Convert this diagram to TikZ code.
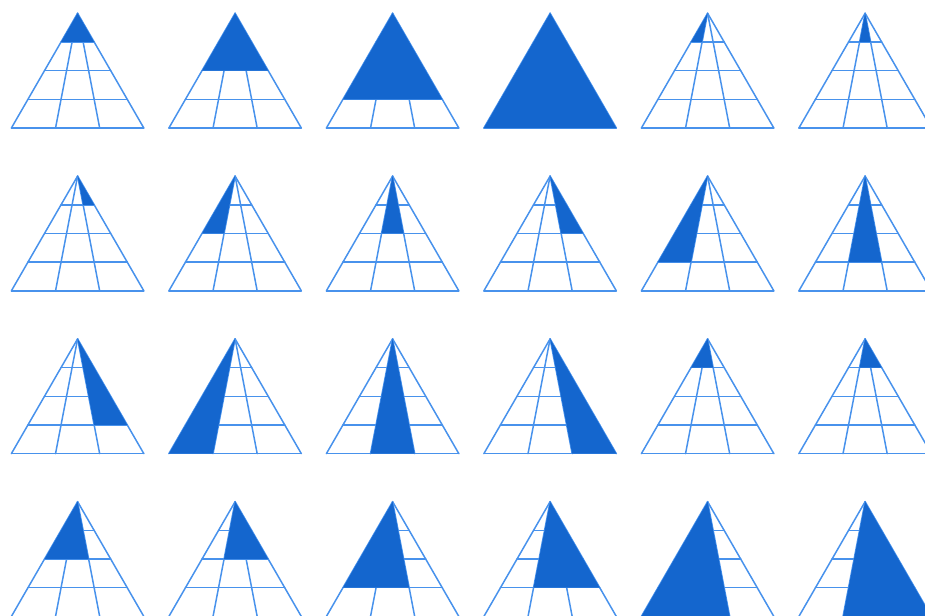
\documentclass[tikz,border=0pt]{standalone}
\definecolor{fillblue}{RGB}{20,102,206}
\definecolor{lineblue}{RGB}{72,146,236}
\begin{document}
\begin{tikzpicture}[x=1pt,y=-1pt,
  gridline/.style={draw=lineblue,line width=1.5pt,line cap=round,line join=round},
  piece/.style={fill=fillblue}]
\useasboundingbox (0,0) rectangle (925,615);
\clip (0,0) rectangle (925,615);
% grids
\foreach \r in {0,...,3}{
  \foreach \c in {0,...,5}{
    \pgfmathsetmacro\ax{77.6+157.5*\c}
    \pgfmathsetmacro\ay{13.3+162.8*\r}
    \coordinate (apex-\r-\c) at (\ax,\ay);
    \foreach \k in {1,...,4}{
      \draw[gridline] ({\ax-66.2*\k/4},{\ay+114.7*\k/4}) -- ({\ax+66.2*\k/4},{\ay+114.7*\k/4});
    }
    \foreach \i in {0,...,3}{
      \draw[gridline] (apex-\r-\c) -- ({\ax-66.2+44.1333*\i},{\ay+114.7});
    }
  }
}
% filled sub-triangles
\foreach [count=\n from 0] \i/\j/\k in {0/3/1,0/3/2,0/3/3,0/3/4,0/1/1,1/2/1,
  2/3/1,0/1/2,1/2/2,2/3/2,0/1/3,1/2/3,
  2/3/3,0/1/4,1/2/4,2/3/4,0/2/1,1/3/1,
  0/2/2,1/3/2,0/2/3,1/3/3,0/2/4,1/3/4}{
  \pgfmathtruncatemacro\r{int(\n/6)}
  \pgfmathtruncatemacro\c{mod(\n,6)}
  \pgfmathsetmacro\ax{77.6+157.5*\c}
  \pgfmathsetmacro\ay{13.3+162.8*\r}
  \fill[piece] (\ax,\ay)
    -- ({\ax+(-66.2+44.1333*\i)*\k/4},{\ay+114.7*\k/4})
    -- ({\ax+(-66.2+44.1333*\j)*\k/4},{\ay+114.7*\k/4}) -- cycle;
}
\end{tikzpicture}
\end{document}
